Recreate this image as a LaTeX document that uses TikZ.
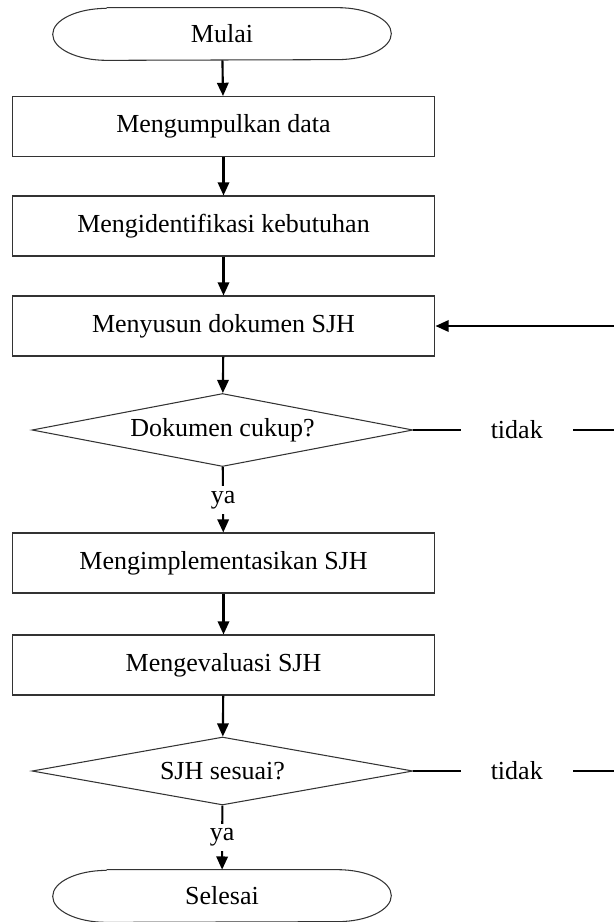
\documentclass[tikz,border=0pt]{standalone}
\usepackage{fontspec}
\setmainfont{Liberation Serif}
\usetikzlibrary{arrows.meta,shapes.geometric}

\tikzset{
  shapeline/.style={draw=black!80, line width=0.6pt},
  procbox/.style={shapeline, minimum width=8.46cm, minimum height=1.2cm},
  termbox/.style={minimum width=6.76cm, minimum height=1.04cm},
  decide/.style={shapeline, diamond, aspect=5.2, inner sep=0pt, minimum width=7.62cm},
  flow/.style={line width=1.2pt, -{Triangle[length=7.5pt,width=6.5pt]}},
  yesbox/.style={fill=white, inner xsep=3pt, inner ysep=0.1cm},
  nobox/.style={fill=white, inner xsep=0.6cm, inner ysep=3pt}
}

\begin{document}
\begin{tikzpicture}[x=0.02cm, y=-0.02cm, line cap=butt,
    every node/.style={font=\fontsize{14.8}{17}\selectfont}]
  \useasboundingbox (0,0) rectangle (614,922);
  \clip (0,0) rectangle (614,922);
  % steps
  \node[termbox] (start) at (222,34) {Mulai};
  \node[procbox] (collect) at (223.5,126.5) {Mengumpulkan data};
  \node[procbox] (needs) at (223.5,226) {Mengidentifikasi kebutuhan};
  \node[procbox] (draft) at (223.5,326) {Menyusun dokumen SJH};
  \node[decide, minimum height=1.46cm] (enough) at (222.5,430) {Dokumen cukup?};
  \node[procbox] (apply) at (223.5,563) {Mengimplementasikan SJH};
  \node[procbox] (review) at (223.5,665) {Mengevaluasi SJH};
  \node[decide, minimum height=1.36cm] (fits) at (222.5,771) {SJH sesuai?};
  \node[termbox] (stop) at (222,896) {Selesai};
  % terminators
  \foreach \n in {start,stop} {
    \draw[shapeline] ([xshift=1.08cm]\n.north west) -- ([xshift=-1.08cm]\n.north east)
      arc[start angle=90, end angle=-90, x radius=1.08cm, y radius=0.52cm]
      -- ([xshift=1.08cm]\n.south west)
      arc[start angle=270, end angle=90, x radius=1.08cm, y radius=0.52cm];
  }
  % main flow
  \draw[flow] (start) -- (collect);
  \draw[flow] (collect) -- (needs);
  \draw[flow] (needs) -- (draft);
  \draw[flow] (draft) -- (enough);
  \draw[flow] (enough) -- node[yesbox] {ya} (apply);
  \draw[flow] (apply) -- (review);
  \draw[flow] (review) -- (fits);
  \draw[flow] (fits) -- node[yesbox] {ya} (stop);
  % loop back
  \coordinate (back1) at (620,430);
  \coordinate (back2) at (620,771);
  \draw[line width=1.2pt] (enough.east) -- node[nobox] {tidak} (back1);
  \draw[line width=1.2pt] (fits.east) -- node[nobox] {tidak} (back2);
  \draw[flow] (back2) |- (draft.east);
\end{tikzpicture}
\end{document}
